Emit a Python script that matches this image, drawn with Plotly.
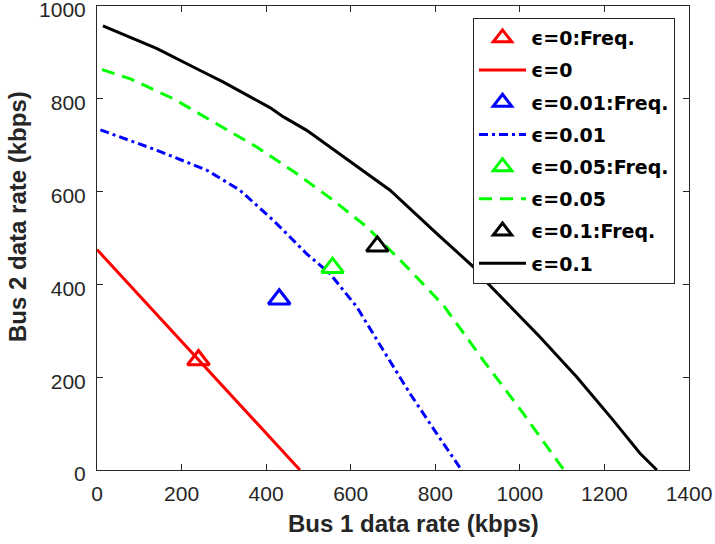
import plotly.graph_objects as go

# ---- data ----
x_e0 = [0, 480]
y_e0 = [475, 0]

x_e001 = [8, 142, 260, 338, 417, 496, 551, 614, 677, 740, 803, 862]
y_e001 = [733, 689, 646, 603, 538, 466, 423, 352, 258, 165, 79, 0]

x_e005 = [12, 79, 181, 283, 378, 472, 559, 638, 740, 819, 913, 1008, 1104]
y_e005 = [863, 843, 800, 746, 696, 639, 581, 524, 431, 355, 237, 122, 0]

x_e01 = [14, 142, 244, 299, 409, 441, 496, 606, 693, 803, 890, 917, 1047, 1134, 1220, 1284, 1324]
y_e01 = [957, 908, 861, 836, 781, 761, 732, 660, 603, 510, 438, 409, 287, 201, 108, 36, 0]

freq_x = [240, 431, 557, 663]
freq_y = [237, 368, 436, 482]

labels_freq = ["ϵ=0:Freq.", "ϵ=0.01:Freq.", "ϵ=0.05:Freq.", "ϵ=0.1:Freq."]
labels_line = ["ϵ=0", "ϵ=0.01", "ϵ=0.05", "ϵ=0.1"]
colors = ["#FF0000", "#0000FF", "#00FF00", "#000000"]
dashes = ["solid", "9px,4px,3px,4px", "13px,8px", "solid"]

xticks = [0, 200, 400, 600, 800, 1000, 1200, 1400]
yticks = [0, 200, 400, 600, 800, 1000]

x_title = "Bus 1 data rate (kbps)"
y_title = "Bus 2 data rate (kbps)"

curves = [(x_e0, y_e0), (x_e001, y_e001), (x_e005, y_e005), (x_e01, y_e01)]

fig = go.Figure()
for i in range(4):
    fig.add_trace(go.Scatter(
        x=[freq_x[i]], y=[freq_y[i]], mode="markers", name=labels_freq[i],
        legendgroup="f%d" % i,
        marker=dict(symbol="triangle-up-open", size=19, color=colors[i],
                    line=dict(width=3, color=colors[i]))))
    cx, cy = curves[i]
    fig.add_trace(go.Scatter(
        x=cx, y=cy, mode="lines", name=labels_line[i],
        legendgroup="l%d" % i,
        line=dict(color=colors[i], width=3, dash=dashes[i])))

axis_common = dict(
    showline=True, linecolor="#262626", linewidth=1, mirror="ticks",
    ticks="inside", ticklen=6, tickcolor="#262626", tickwidth=1,
    showgrid=False, zeroline=False, ticklabeloverflow="allow", automargin=False,
    tickfont=dict(family="Liberation Sans, Arial", size=21, color="#262626"),
)

title_font = dict(family="Liberation Sans, Arial", size=24, color="#262626")

fig.update_layout(
    width=715, height=544,
    margin=dict(l=97, r=26, t=6, b=74),
    plot_bgcolor="white", paper_bgcolor="white",
    xaxis=dict(range=[0, 1400], tickvals=xticks, ticklabelstandoff=5, **axis_common),
    yaxis=dict(range=[0, 1000], tickvals=yticks, ticklabelstandoff=6, ticklabelshift=4,
               **axis_common),
    legend=dict(x=(473 - 97) / 592, y=(470 - 18) / 464, xanchor="left", yanchor="top",
                bgcolor="white", bordercolor="#262626", borderwidth=1,
                font=dict(family="DejaVu Sans", size=19, color="#000000", weight="bold"),
                traceorder="grouped", tracegroupgap=4.5, itemwidth=47),
    showlegend=True,
    annotations=[
        dict(text="<b>" + x_title + "</b>", xref="paper", yref="paper",
             x=(413 - 97) / 592, y=-(523 - 470) / 464, xanchor="center",
             yanchor="middle", showarrow=False, font=title_font),
        dict(text="<b>" + y_title + "</b>", xref="paper", yref="paper",
             x=(17 - 97) / 592, y=(470 - 217) / 464, xanchor="center",
             yanchor="middle", showarrow=False, textangle=-90, font=title_font),
    ],
)

fig.write_html("out.html")
